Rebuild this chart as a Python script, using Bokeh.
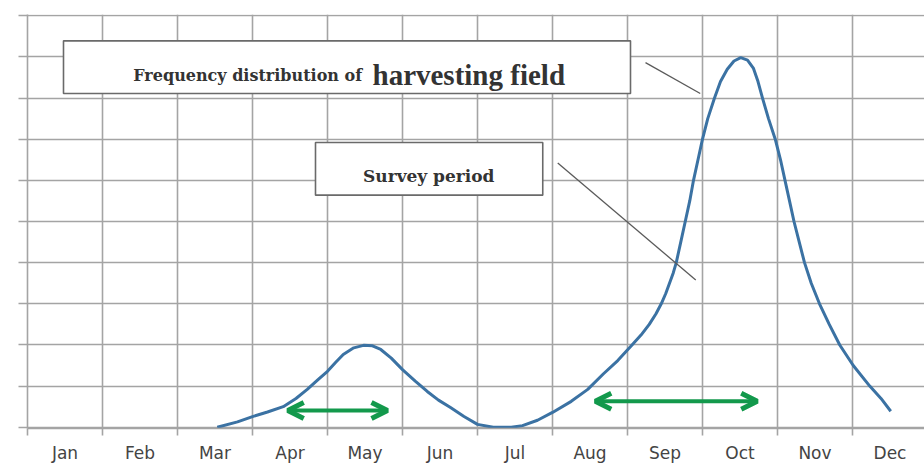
from bokeh.plotting import figure
from bokeh.models import (Range1d, FixedTicker, ColumnDataSource, Arrow, OpenHead)
from bokeh.core.properties import value
from bokeh.embed import file_html
from bokeh.resources import INLINE

# ---- data ----
months = ["Jan", "Feb", "Mar", "Apr", "May", "Jun",
          "Jul", "Aug", "Sep", "Oct", "Nov", "Dec"]

# frequency distribution of harvesting field (x in months from 1 Jan, y in grid units)
curve_x = [2.53, 2.8, 3.0, 3.2, 3.41, 3.58, 3.73, 3.87, 4.0, 4.11, 4.21, 4.35, 4.48, 4.6,
           4.71, 4.85, 5.0, 5.17, 5.33, 5.48, 5.64, 5.82, 6.0, 6.21, 6.45, 6.6,
           6.8, 7.0, 7.25, 7.47, 7.68, 7.87, 8.06, 8.18, 8.29, 8.38, 8.45, 8.51, 8.56,
           8.61, 8.65, 8.71, 8.77, 8.83, 8.88, 8.94, 9.0, 9.07, 9.16, 9.24, 9.33,
           9.42, 9.51, 9.6, 9.68, 9.74, 9.8, 9.88, 9.97, 10.04, 10.1, 10.16, 10.22,
           10.29, 10.36, 10.45, 10.56, 10.69, 10.83, 11.01, 11.23, 11.38, 11.51]
curve_y = [0.0, 0.13, 0.26, 0.37, 0.5, 0.7, 0.92, 1.15, 1.36, 1.58, 1.77, 1.93, 1.99, 1.98,
           1.89, 1.68, 1.4, 1.12, 0.87, 0.66, 0.48, 0.26, 0.07, 0.0, 0.0, 0.04,
           0.17, 0.36, 0.63, 0.92, 1.3, 1.62, 2.0, 2.24, 2.5, 2.76, 3.0, 3.25, 3.5,
           3.75, 4.0, 4.5, 5.0, 5.5, 6.0, 6.5, 7.0, 7.5, 8.0, 8.4, 8.7,
           8.9, 8.98, 8.92, 8.72, 8.4, 8.0, 7.5, 7.0, 6.5, 6.0, 5.5, 5.0,
           4.5, 4.0, 3.5, 3.0, 2.5, 2.0, 1.5, 1.0, 0.7, 0.39]

# survey periods (double arrows)
arrow_x_start = [3.47, 7.57]
arrow_x_end = [4.8, 9.73]
arrow_y = [0.41, 0.63]

# callout boxes
box_left = [0.48, 3.84]
box_right = [8.04, 6.87]
box_top = [9.39, 6.92]
box_bottom = [8.11, 5.64]

# leader lines
lead_x0 = [8.24, 7.07]
lead_y0 = [8.86, 6.42]
lead_x1 = [8.97, 8.91]
lead_y1 = [8.11, 3.58]

GRID = "#a4a4a4"

p = figure(width=924, height=465, output_backend="svg", toolbar_location=None,
           x_range=Range1d(0, 11.96), y_range=Range1d(-0.03, 10.03),
           min_border_left=27, min_border_right=0, min_border_top=14,
           min_border_bottom=36)
p.outline_line_color = None
p.background_fill_color = "white"

# grid
p.xgrid.ticker = FixedTicker(ticks=list(range(0, 13)))
p.ygrid.ticker = FixedTicker(ticks=list(range(0, 11)))
for g in (p.xgrid, p.ygrid):
    g.grid_line_color = GRID
    g.grid_line_width = 1.6

# x axis: labels between gridlines, tick marks at gridlines
p.xaxis.ticker = FixedTicker(ticks=[i + 0.5 for i in range(12)],
                             minor_ticks=list(range(0, 13)))
p.xaxis.major_label_overrides = {i + 0.5: m for i, m in enumerate(months)}
p.xaxis.major_tick_line_color = None
p.xaxis.minor_tick_line_color = GRID
p.xaxis.minor_tick_line_width = 1.6
p.xaxis.minor_tick_out = 7
p.xaxis.minor_tick_in = 0
p.xaxis.axis_line_color = GRID
p.xaxis.axis_line_width = 1.6
p.xaxis.major_label_standoff = 7
p.xaxis.major_label_text_font = "DejaVu Sans"
p.xaxis.major_label_text_font_size = "17px"
p.xaxis.major_label_text_color = "#444444"

# y axis: ticks only, no labels
p.yaxis.ticker = FixedTicker(ticks=list(range(0, 11)))
p.yaxis.major_label_overrides = {i: "" for i in range(0, 11)}
p.yaxis.major_label_standoff = 0
p.yaxis.major_tick_line_color = GRID
p.yaxis.major_tick_line_width = 1.6
p.yaxis.major_tick_out = 9
p.yaxis.major_tick_in = 0
p.yaxis.minor_tick_line_color = None
p.yaxis.axis_line_color = GRID
p.yaxis.axis_line_width = 1.6

# curve
p.line(curve_x, curve_y, line_color="#3b72a3", line_width=3, line_join="round")

# leader lines
p.segment(x0=lead_x0, y0=lead_y0, x1=lead_x1, y1=lead_y1,
          line_color="#5a5a5a", line_width=1.3)

# callout boxes
p.quad(left=box_left, right=box_right, top=box_top, bottom=box_bottom,
       fill_color="white", line_color="#6a6a6a", line_width=1.6)

p.text(x=[1.41], y=[8.55], text=["Frequency distribution of"],
       text_font=value("DejaVu Serif"), text_font_style="bold",
       text_font_size="16px", text_color="#333333",
       text_baseline="alphabetic", text_align="left")
p.text(x=[4.6], y=[8.55], text=["harvesting field"],
       text_font=value("Liberation Serif"), text_font_style="bold",
       text_font_size="29px", text_color="#333333",
       text_baseline="alphabetic", text_align="left")
p.text(x=[5.35], y=[6.1], text=["Survey period"],
       text_font=value("DejaVu Serif"), text_font_style="bold",
       text_font_size="17px", text_color="#333333",
       text_baseline="alphabetic", text_align="center")

# survey-period arrows
asrc = ColumnDataSource(dict(xs=arrow_x_start, xe=arrow_x_end, y=arrow_y))
p.add_layout(Arrow(x_start="xs", y_start="y", x_end="xe", y_end="y", source=asrc,
                   line_color="#13994c", line_width=4,
                   start=OpenHead(size=16, line_color="#13994c", line_width=5),
                   end=OpenHead(size=16, line_color="#13994c", line_width=5)))

open("out.html", "w").write(file_html(p, INLINE))
